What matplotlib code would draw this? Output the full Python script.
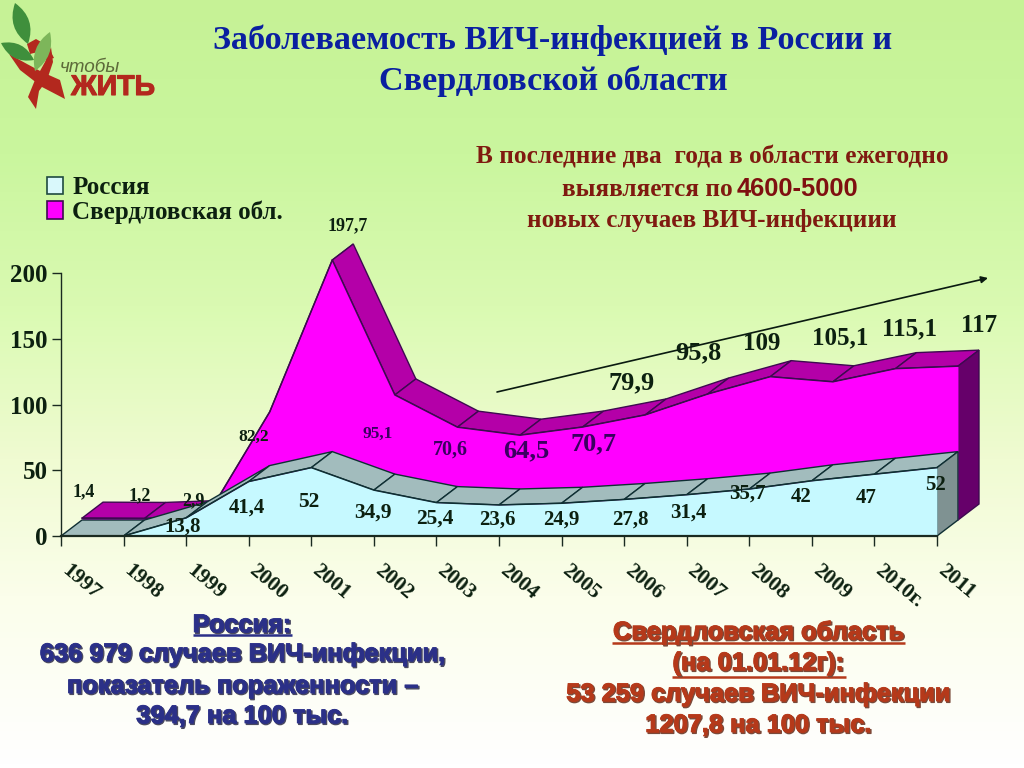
import numpy as np
import matplotlib
matplotlib.use("Agg")
import matplotlib.pyplot as plt
from matplotlib.patches import Polygon, Patch, PathPatch
from matplotlib.path import Path
from matplotlib.colors import LinearSegmentedColormap
from matplotlib.transforms import ScaledTranslation
import matplotlib.patheffects as pe

years = ["1997", "1998", "1999", "2000", "2001", "2002", "2003", "2004",
         "2005", "2006", "2007", "2008", "2009", "2010г.", "2011"]
russia = [0, 0, 13.8, 41.4, 52, 34.9, 25.4, 23.6, 24.9, 27.8, 31.4, 35.7, 42, 47, 52]
sverdlovsk = [1.4, 1.2, 2.9, 82.2, 197.7, 95.1, 70.6, 64.5, 70.7, 79.9, 95.8, 109, 105.1, 115.1, 117]
y_ticks = [0, 50, 100, 150, 200]

# label text, centre in pixels, font size
russia_labels = ["13,8", "41,4", "52", "34,9", "25,4", "23,6", "24,9", "27,8", "31,4", "35,7", "42", "47", "52"]
russia_label_pos = [(183, 527), (247, 508), (309, 502), (373, 513), (435, 519), (497, 520), (561, 520),
                    (630, 520), (688, 513), (747, 494), (801, 497), (866, 498), (935, 485)]
russia_label_size = [15, 15, 15.5, 15.5, 15.5, 15, 15, 15, 15, 15, 15, 15, 15]
sverd_labels = ["1,4", "1,2", "2,9", "82,2", "197,7", "95,1", "70,6", "64,5", "70,7", "79,9", "95,8", "109", "105,1", "115,1", "117"]
sverd_label_pos = [(84, 492), (140, 496), (193, 501), (254, 437), (348, 226), (378, 434), (450, 450),
                   (526, 451), (594, 444), (632, 383), (698, 353), (762, 343), (840, 338), (910, 329), (979, 325)]
sverd_label_size = [13, 13, 13, 12.5, 13, 12.5, 14.5, 19, 19, 19, 19, 18, 18, 18, 18]

W, H = 1024, 768
AX_L, AX_R, AX_B, AX_T = 61, 937, 536, 273
DEPTH_PX = (21, 16)

SERIF = "Liberation Serif"
SANS = "Liberation Sans"
INK = "#0c2010"

fig = plt.figure(figsize=(W / 100, H / 100), dpi=100)

# background gradient
bg = fig.add_axes([0, 0, 1, 1], zorder=0)
cmap = LinearSegmentedColormap.from_list("bg", [(0, "#c6f296"), (0.2, "#caf69e"), (0.4, "#dafab2"),
                                                 (0.6, "#f0fbd2"), (0.78, "#fbfeeb"), (1, "#ffffff")])
bg.imshow(np.linspace(0, 1, 256).reshape(-1, 1), cmap=cmap, aspect="auto", extent=(0, W, H, 0))
bg.set_xlim(0, W); bg.set_ylim(H, 0); bg.axis("off")

# chart
ax = fig.add_axes([AX_L / W, 1 - AX_B / H, (AX_R - AX_L) / W, (AX_B - AX_T) / H], zorder=1)
ax.patch.set_visible(False)
xs = np.arange(len(years))
ax.set_xlim(0, len(years) - 1)
ax.set_ylim(0, 200)
dx = DEPTH_PX[0] / ((AX_R - AX_L) / (len(years) - 1))
dy = DEPTH_PX[1] / ((AX_B - AX_T) / 200)


def layer(values, depth, face, top, side, edge, label):
    v = np.asarray(values, float)
    x0 = xs + depth * dx
    y0 = v + depth * dy
    base = depth * dy
    z = 2 + 2 * (1 - depth)   # nearer layers on top
    for i in range(len(xs) - 1):
        ax.add_patch(Polygon([(x0[i], y0[i]), (x0[i + 1], y0[i + 1]),
                              (x0[i + 1] + dx, y0[i + 1] + dy), (x0[i] + dx, y0[i] + dy)],
                             closed=True, fc=top, ec=edge, lw=1, clip_on=False, zorder=z))
    ax.add_patch(Polygon([(x0[-1], base), (x0[-1], y0[-1]), (x0[-1] + dx, y0[-1] + dy), (x0[-1] + dx, base + dy)],
                         closed=True, fc=side, ec=edge, lw=1, clip_on=False, zorder=z + 0.2))
    ax.fill_between(x0, base, y0, color=face, lw=0, clip_on=False, zorder=z + 0.5, label=label)
    ax.plot(x0, y0, color=edge, lw=1.1, clip_on=False, zorder=z + 0.6)


layer(sverdlovsk, 1, "#ff00ff", "#b400a8", "#66006a", "#3d0a50", "Свердловская обл.")
layer(russia, 0, "#c6f9ff", "#a2bcbd", "#7f9292", "#0f2f33", "Россия")

for s in ("top", "right"):
    ax.spines[s].set_visible(False)
for s in ("left", "bottom"):
    ax.spines[s].set_color("#1a2a20")
    ax.spines[s].set_zorder(10)
ax.spines["bottom"].set_linewidth(1.6)
ax.spines["left"].set_linewidth(1.0)

ax.set_yticks(y_ticks)
ax.set_yticklabels([str(t) for t in y_ticks], family=SERIF, weight="bold", size=18, color=INK)
ax.tick_params(axis="y", length=6.5, width=1, pad=3, color="#1a2a20")
ax.set_xticks(xs)
ax.set_xticklabels(years, family=SERIF, weight="bold", size=15.5, color=INK,
                   rotation=-40, ha="left", va="center", rotation_mode="anchor")
ax.tick_params(axis="x", length=7, width=1, pad=16, color="#1a2a20")
shift = ScaledTranslation(3 / 100, 0, fig.dpi_scale_trans)
for lab in ax.get_xticklabels():
    lab.set_transform(lab.get_transform() + shift)

handles = [Patch(fc="#d9f8fb", ec="#1f4a40", lw=1.2, label="Россия"),
           Patch(fc="#ff00ff", ec="#3d0a50", lw=1.2, label="Свердловская обл.")]
leg = ax.legend(handles=handles, loc="upper left", bbox_to_anchor=(27 / W, 1 - 156 / H),
                bbox_transform=fig.transFigure, frameon=False, handlelength=0.65, handleheight=0.7,
                handletextpad=0.36, labelspacing=0.04, borderpad=0.3,
                prop={"family": SERIF, "weight": "bold", "size": 18})
for t in leg.get_texts():
    t.set_color(INK)

# overlay in pixel coordinates: annotation, logo, texts
ov = fig.add_axes([0, 0, 1, 1], zorder=2)
ov.patch.set_visible(False)
ov.set_xlim(0, W); ov.set_ylim(H, 0); ov.axis("off")

ov.annotate("", xy=(988, 278), xytext=(497, 392),
            arrowprops=dict(arrowstyle="-|>", color="#0a1a10", lw=1.2, mutation_scale=10, shrinkA=0, shrinkB=0))

on_magenta = {"95,1", "70,6", "64,5", "70,7"}
for txts, poss, sizes in ((russia_labels, russia_label_pos, russia_label_size),
                          (sverd_labels, sverd_label_pos, sverd_label_size)):
    for t, (px, py), sz in zip(txts, poss, sizes):
        ov.text(px, py, t, family=SERIF, weight="bold", size=sz, ha="center", va="center",
                color="#3a0060" if t in on_magenta else INK)

# logo
LEAF_D, LEAF_L = "#3f8f3c", "#7db65a"
RED = "#b3281e"


def leaf(tip, base, bulge, color):
    t, b = np.array(tip, float), np.array(base, float)
    m = (t + b) / 2
    d = b - t
    n = np.array([-d[1], d[0]]) / np.hypot(*d) * bulge * 2
    verts = [tuple(t), tuple(m + n), tuple(b), tuple(m - n), tuple(t)]
    codes = [Path.MOVETO, Path.CURVE3, Path.CURVE3, Path.CURVE3, Path.CURVE3]
    ov.add_patch(PathPatch(Path(verts, codes), fc=color, ec="none", zorder=3))


for pts in ([(27, 44), (36, 39), (48, 46), (54, 58), (46, 60), (38, 52), (30, 54)],
            [(9, 54), (27, 64), (42, 72), (60, 80), (65, 99), (42, 87), (20, 70)],
            [(51, 47), (53, 62), (47, 80), (39, 91), (36, 109), (28, 97), (35, 80), (45, 62)]):
    ov.add_patch(Polygon(pts, closed=True, fc=RED, ec="none", zorder=2))
leaf((15, 3), (28, 44), 8, LEAF_D)
leaf((1, 43), (34, 60), 7, LEAF_D)
leaf((50, 32), (35, 71), 7, LEAF_L)
ov.text(60, 68, "чтобы", family=SANS, style="italic", size=13.6, color="#5d6a3a", va="center", ha="left", zorder=4)
ov.text(71, 88, "ЖИТЬ", family=SANS, weight="bold", size=20.5, color=RED, va="center", ha="left", zorder=4,
        path_effects=[pe.withStroke(linewidth=0.8, foreground=RED)])

# title
for t, y in (("Заболеваемость ВИЧ-инфекцией в России и", 40), ("Свердловской области", 81)):
    ov.text(553, y, t, family=SERIF, weight="bold", size=24.6, color="#0a1fa0", ha="center", va="center")

# red note
NOTE = "#7f1a10"
ov.text(712, 157, "В последние два  года в области ежегодно", family=SERIF, weight="bold", size=18.2,
        color=NOTE, ha="center", va="center")
ov.text(733, 189, "выявляется по", family=SERIF, weight="bold", size=18.2, color=NOTE, ha="right", va="center")
ov.text(737, 189, "4600-5000", family=SANS, weight="bold", size=18.4, color="#7f1010", ha="left", va="center")
ov.text(712, 220, "новых случаев ВИЧ-инфекциии", family=SERIF, weight="bold", size=18.2,
        color=NOTE, ha="center", va="center")


def block(lines, cx, col, shadow, underlines):
    for t, y in lines:
        ov.text(cx, y, t, family=SANS, weight="bold", size=18.3, color=col, ha="center", va="center",
                path_effects=[pe.Stroke(linewidth=1.0, foreground=shadow, offset=(1, -1)),
                              pe.Stroke(linewidth=0.6, foreground=col), pe.Normal()])
    for x0, x1, y in underlines:
        ov.plot([x0, x1], [y, y], color=col, lw=1.8, solid_capstyle="butt")


block([("Россия:", 625), ("636 979 случаев ВИЧ-инфекции,", 654), ("показатель пораженности –", 686),
       ("394,7 на 100 тыс.", 716)], 242, "#2b3088", "#4a4a60", [(193, 292, 635)])
block([("Свердловская область", 632), ("(на 01.01.12г):", 663), ("53 259 случаев ВИЧ-инфекции", 694),
       ("1207,8 на 100 тыс.", 725)], 758, "#b5391a", "#7a4a3a", [(612, 905, 643), (672, 846, 677)])

fig.savefig("out.png", dpi=100)
